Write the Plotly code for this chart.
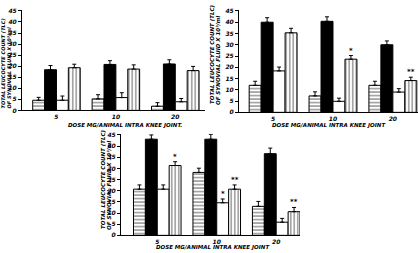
import plotly.graph_objects as go

W, H = 418, 253

doses = ["5", "10", "20"]
series_names = ["Hatched", "Control", "Open", "Vertical"]

# Panel A (top-left)
a_hatch = [4.6, 5.2, 1.9];   a_hatch_err = [1.3, 1.9, 1.6]
a_black = [18.4, 20.8, 21.0]; a_black_err = [1.9, 1.7, 1.9]
a_open = [4.6, 5.8, 3.9];    a_open_err = [1.9, 2.2, 1.5]
a_vert = [19.3, 18.7, 18.0]; a_vert_err = [1.6, 1.9, 1.9]
a_marks = [["", "", "", ""], ["", "", "", ""], ["", "", "", ""]]

# Panel B (top-right)
b_hatch = [12.0, 7.3, 12.0];  b_hatch_err = [1.8, 1.8, 1.8]
b_black = [40.0, 40.4, 30.0]; b_black_err = [2.0, 2.0, 1.7]
b_open = [18.4, 4.9, 9.0];    b_open_err = [1.7, 1.4, 1.5]
b_vert = [35.3, 23.6, 14.1];  b_vert_err = [2.0, 1.6, 1.5]
b_marks = [["", "", "", ""], ["", "", "", "*"], ["", "", "", "**"]]

# Panel C (bottom)
c_hatch = [20.7, 28.2, 13.0]; c_hatch_err = [1.9, 1.9, 2.2]
c_black = [43.1, 43.1, 36.6]; c_black_err = [1.9, 2.2, 2.5]
c_open = [20.7, 14.6, 5.9];   c_open_err = [1.9, 1.7, 1.7]
c_vert = [31.3, 20.7, 10.6];  c_vert_err = [1.7, 1.9, 1.9]
c_marks = [["", "", "", "*"], ["", "", "*", "**"], ["", "", "", "**"]]

y_ticks = [0, 5, 10, 15, 20, 25, 30, 35, 40, 45]
y_title1 = "TOTAL LEUCOCYTE COUNT (TLC)"
y_title2 = "OF SYNOVIAL FLUID X 10\u00b3/ml"
x_title = "DOSE MG/ANIMAL INTRA KNEE JOINT."
x_title_b = "DOSE MG/ANIMAL INTRA KNEE JOINT"

FONT = "DejaVu Sans"
tfont = dict(family=FONT, size=6, color="black", weight="bold", style="italic")

panels = [
    dict(data=[(a_hatch, a_hatch_err), (a_black, a_black_err), (a_open, a_open_err), (a_vert, a_vert_err)],
         marks=a_marks, xpx=(22, 205), ypx=(110, 7), xr=[-0.58, 2.5], xt=x_title),
    dict(data=[(b_hatch, b_hatch_err), (b_black, b_black_err), (b_open, b_open_err), (b_vert, b_vert_err)],
         marks=b_marks, xpx=(239, 418), ypx=(112, 7), xr=[-0.57, 2.42], xt=x_title_b),
    dict(data=[(c_hatch, c_hatch_err), (c_black, c_black_err), (c_open, c_open_err), (c_vert, c_vert_err)],
         marks=c_marks, xpx=(121, 300), ypx=(238, 134), xr=[-0.61, 2.4], xt=x_title_b),
]

styles = [
    dict(color="white", pattern=dict(shape="-", fgcolor="black", bgcolor="white", size=3.5, solidity=0.35)),
    dict(color="black"),
    dict(color="white"),
    dict(color="white", pattern=dict(shape="|", fgcolor="black", bgcolor="white", size=3.5, solidity=0.35)),
]

fig = go.Figure()
xpos = list(range(len(doses)))
annotations = []
nb = 4
gap = 0.2
bw = (1 - gap) / nb

for pi, p in enumerate(panels):
    sfx = "" if pi == 0 else str(pi + 1)
    for si, (vals, errs) in enumerate(p["data"]):
        st = styles[si]
        fig.add_trace(go.Bar(
            x=xpos, y=vals, name=series_names[si], showlegend=False,
            xaxis="x" + sfx, yaxis="y" + sfx,
            marker=dict(color=st["color"], line=dict(color="black", width=1),
                        pattern=st.get("pattern", None)),
            error_y=dict(type="data", symmetric=False, array=errs, arrayminus=[0] * len(errs),
                         color="black", thickness=1, width=2),
        ))
        for gi in range(len(doses)):
            m = p["marks"][gi][si]
            if m:
                annotations.append(dict(
                    x=xpos[gi] - 0.5 + gap / 2 + bw * (si + 0.5), y=vals[gi] + errs[gi],
                    xref="x" + sfx, yref="y" + sfx, text=m, showarrow=False,
                    yanchor="bottom", yshift=-1, font=dict(family=FONT, size=7, color="black", weight="bold")))
    x0, x1 = p["xpx"]
    yb, yt = p["ypx"]
    fig.update_layout(**{
        "xaxis" + sfx: dict(domain=[x0 / W, x1 / W], range=p["xr"], tickvals=xpos, ticktext=doses,
                            showline=True, linecolor="black", linewidth=1, ticks="", showgrid=False,
                            zeroline=False, tickfont=tfont, anchor="y" + sfx, fixedrange=True),
        "yaxis" + sfx: dict(domain=[1 - yb / H, 1 - yt / H], range=[0, 45.5], tickvals=y_ticks,
                            showline=True, linecolor="black", linewidth=1, ticks="outside", ticklen=3,
                            tickcolor="black", showgrid=False, zeroline=False, tickfont=tfont,
                            anchor="x" + sfx, fixedrange=True),
    })

def px_x(v):
    return v / W

def px_y(v):
    return 1 - v / H

afont = dict(family=FONT, size=5.5, color="black", weight="bold", style="italic")
afont_s = dict(family=FONT, size=5, color="black", weight="bold", style="italic")
# x titles
for cx, cy, txt in [(125, 125, x_title), (329, 125, x_title_b), (213, 250.5, x_title_b)]:
    annotations.append(dict(x=px_x(cx), y=px_y(cy), xref="paper", yref="paper", text=txt,
                            showarrow=False, font=afont, xanchor="center", yanchor="middle"))
# y titles (two lines each, rotated)
for lx1, lx2, ybot, f in [(3, 8.5, 110, afont_s), (212, 218, 106, afont), (103, 109, 234, afont)]:
    annotations.append(dict(x=px_x(lx1), y=px_y(ybot), xref="paper", yref="paper", text=y_title1,
                            showarrow=False, font=f, textangle=-90, xanchor="center", yanchor="bottom"))
    annotations.append(dict(x=px_x(lx2), y=px_y(ybot), xref="paper", yref="paper", text=y_title2,
                            showarrow=False, font=f, textangle=-90, xanchor="center", yanchor="bottom"))

fig.update_layout(
    width=W, height=H, margin=dict(l=0, r=0, t=0, b=0),
    paper_bgcolor="white", plot_bgcolor="white",
    barmode="group", bargap=gap, bargroupgap=0,
    annotations=annotations, showlegend=False,
)

fig.write_html("out.html", config={"displayModeBar": False})
